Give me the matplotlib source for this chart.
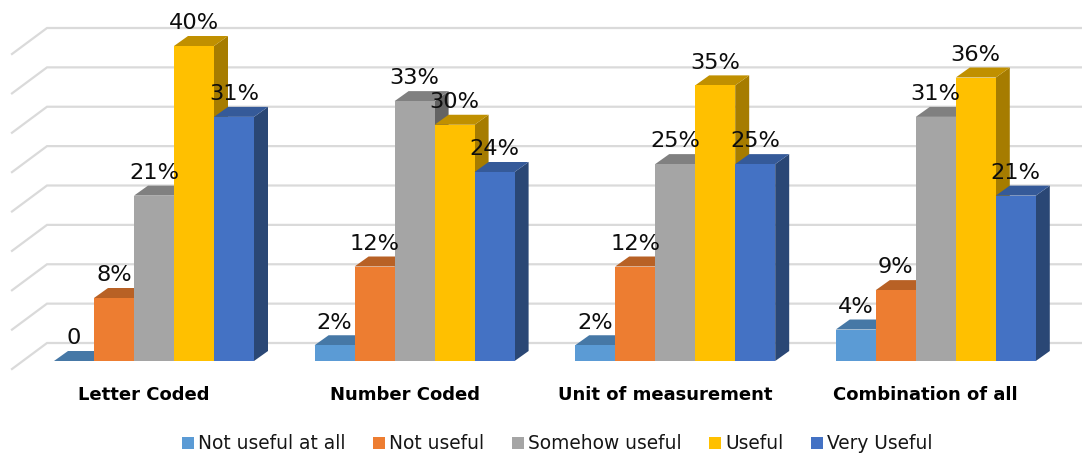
import matplotlib
matplotlib.use('Agg')
import matplotlib.pyplot as plt
from matplotlib.patches import Polygon

categories = ['Letter Coded', 'Number Coded', 'Unit of measurement', 'Combination of all']
not_useful_at_all = [0, 2, 2, 4]
not_useful = [8, 12, 12, 9]
somehow_useful = [21, 33, 25, 31]
useful = [40, 30, 35, 36]
very_useful = [31, 24, 25, 21]

series_names = ['Not useful at all', 'Not useful', 'Somehow useful', 'Useful', 'Very Useful']
series_values = [not_useful_at_all, not_useful, somehow_useful, useful, very_useful]
front_colors = ['#5B9BD5', '#ED7D31', '#A5A5A5', '#FFC000', '#4472C4']
top_colors = ['#4678A6', '#B86125', '#808080', '#C09000', '#355A99']
side_colors = ['#335A7F', '#8E4A1C', '#636363', '#A67C00', '#2A4775']
grid_levels = [0, 5, 10, 15, 20, 25, 30, 35, 40]

# scale of the plot, in pixels per data unit
px_x = 260.6
px_y = 7.875
bar_w = 40 / px_x
depth_x = 14 / px_x
depth_y = 10 / px_y

fig = plt.figure(figsize=(10.82, 4.55), dpi=100)
ax = fig.add_axes([0, (455 - 369) / 455, 1, 369 / 455])
ax.set_xlim(-154 / px_x, (1082 - 154) / px_x)
ax.set_ylim(-8 / px_y, 361 / px_y)
ax.patch.set_alpha(0)
for spine in ax.spines.values():
    spine.set_visible(False)

# back wall grid, with the slanted part along the side wall
wall_left = -142 / px_x
wall_back = -107 / px_x
wall_rise = 18 / px_y
wall_drop = -8 / px_y
for level in grid_levels:
    ax.plot([wall_left, wall_back, ax.get_xlim()[1]],
            [level + wall_drop, level + wall_rise, level + wall_rise],
            color='#DADADA', lw=1.6, zorder=1, clip_on=False,
            solid_joinstyle='miter')

# bars go left to right so each one covers the side of the previous one
for s, (name, values) in enumerate(zip(series_names, series_values)):
    z = 2 + s
    for c, v in enumerate(values):
        x0 = c + (s - 2.5) * bar_w
        x1 = x0 + bar_w
        ax.add_patch(Polygon([(x1, 0), (x1 + depth_x, depth_y), (x1 + depth_x, v + depth_y), (x1, v)],
                             facecolor=side_colors[s], edgecolor='none', zorder=z))
        ax.add_patch(Polygon([(x0, v), (x0 + depth_x, v + depth_y), (x1 + depth_x, v + depth_y), (x1, v)],
                             facecolor=top_colors[s], edgecolor='none', zorder=z))
    xs = [c + (s - 2) * bar_w for c in range(len(values))]
    ax.bar(xs, values, width=bar_w, color=front_colors[s], label=name, zorder=z)

# value labels above every bar
for s, values in enumerate(series_values):
    for c, v in enumerate(values):
        label = f'{v}%' if v else '0'
        ax.annotate(label, (c + (s - 2) * bar_w, v), xytext=(0, 16.3), textcoords='offset points',
                    ha='center', va='center', fontsize=16.2, color='#0D0D0D', zorder=10)

ax.set_yticks([])
# category labels sit a little left of the bar groups
ax.set_xticks([c - 10 / px_x for c in range(len(categories))])
ax.set_xticklabels(categories, fontsize=13, fontweight='bold', color='black')
ax.tick_params(axis='x', length=0, pad=12)
ax.set_xlim(-154 / px_x, (1082 - 154) / px_x)

handles, labels = ax.get_legend_handles_labels()
fig.legend(handles, labels, loc='lower center', bbox_to_anchor=(0.515, -0.033), ncol=5, frameon=False,
           fontsize=13.4, handlelength=0.645, handleheight=0.645, handletextpad=0.2, columnspacing=1.5,
           labelcolor='#151515')

fig.savefig('out.png', dpi=100)
